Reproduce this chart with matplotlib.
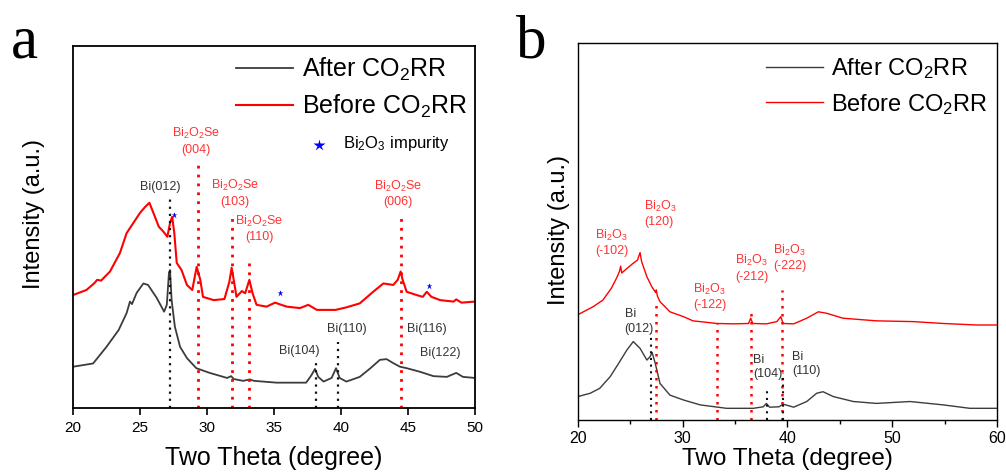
import matplotlib.pyplot as plt
from matplotlib.ticker import MultipleLocator

plt.rcParams['font.family'] = 'Liberation Sans'
plt.rcParams['mathtext.fontset'] = 'custom'
plt.rcParams['mathtext.rm'] = 'Liberation Sans'
plt.rcParams['mathtext.it'] = 'Liberation Sans:italic'
plt.rcParams['mathtext.bf'] = 'Liberation Sans:bold'

# ---- (a) Bi2O2Se, before / after CO2RR ----
a_after_tt = [20.0, 21.5, 22.5, 23.4, 24.0, 24.25, 24.4, 24.75, 25.25, 25.6, 26.25, 26.8,
              27.0, 27.16, 27.24, 27.36, 27.6, 27.99, 28.5, 29.2, 30.2, 31.5, 31.8, 32.0,
              32.7, 33.2, 33.5, 35.2, 37.4, 37.8, 38.06, 38.3, 38.7, 39.3, 39.63, 39.9,
              40.4, 41.4, 42.2, 42.9, 43.4, 43.9, 44.4, 44.9, 45.9, 46.9, 47.9, 48.6,
              49.1, 50.0]
a_after_int = [11.4, 12.3, 16.9, 21.5, 26.2, 29.4, 28.7, 31.8, 34.4, 34.0, 30.4, 26.6,
               28.5, 37.3, 38.1, 29.8, 22.5, 16.9, 13.8, 11.0, 9.7, 8.3, 8.8, 8.0,
               7.5, 7.9, 7.5, 7.0, 7.0, 9.1, 10.8, 8.6, 7.3, 8.3, 11.0, 8.3,
               7.3, 8.6, 11.0, 13.3, 13.5, 12.4, 11.4, 11.0, 10.0, 8.8, 8.6, 9.7,
               8.6, 8.3]
a_before_tt = [20.0, 21.0, 21.6, 21.8, 22.1, 22.76, 23.5, 24.0, 24.5, 25.0, 25.37, 25.7,
               26.0, 26.4, 26.75, 27.04, 27.24, 27.4, 27.56, 27.74, 28.1, 28.5, 28.9,
               29.23, 29.5, 29.7, 30.5, 31.3, 31.67, 31.84, 32.04, 32.2, 32.6, 32.85,
               33.16, 33.4, 33.7, 34.45, 35.07, 35.95, 36.94, 37.56, 38.2, 39.6, 40.4,
               41.4, 42.4, 43.16, 43.9, 44.23, 44.45, 44.6, 44.9, 45.65, 46.1, 46.4,
               46.75, 47.4, 48.4, 48.6, 48.99, 50.0]
a_before_int = [31.2, 32.6, 34.5, 35.4, 35.2, 37.7, 42.8, 48.3, 51.1, 53.9, 55.5, 56.7,
                53.9, 50.1, 48.7, 47.3, 51.1, 52.8, 48.3, 40.1, 38.1, 34.0, 32.6,
                39.0, 35.4, 30.7, 29.8, 30.1, 34.9, 38.7, 34.4, 30.7, 32.3, 31.7,
                35.4, 31.7, 28.5, 28.0, 29.1, 28.0, 27.6, 28.5, 27.1, 27.1, 27.8,
                28.9, 32.1, 34.4, 34.0, 35.4, 37.7, 35.4, 32.1, 31.2, 30.7, 32.1,
                30.7, 29.8, 29.4, 30.0, 29.1, 29.4]
a_star_tt = [27.56, 35.45, 46.56]
a_star_int = [53.3, 31.7, 33.7]

a_red_tt = [29.33, 31.9, 33.16, 44.48]
a_red_top = [68.0, 53.9, 41.8, 53.9]
a_black_tt = [27.24, 38.1, 39.75]
a_black_top = [58.4, 12.4, 18.3]

a_red_labels = ['Bi$_2$O$_2$Se\n(004)', 'Bi$_2$O$_2$Se\n(103)',
                'Bi$_2$O$_2$Se\n(110)', 'Bi$_2$O$_2$Se\n(006)']
a_red_label_tt = [29.18, 32.09, 33.88, 44.25]
a_red_label_int = [73.8, 59.4, 49.6, 59.3]
a_black_labels = ['Bi(012)', 'Bi(104)', 'Bi(110)', 'Bi(116)', 'Bi(122)']
a_black_label_tt = [26.49, 36.87, 40.43, 46.4, 47.44]
a_black_label_int = [61.0, 15.8, 21.8, 21.8, 15.2]

# ---- (b) Bi2O3, before / after CO2RR ----
b_after_tt = [20.0, 21.2, 22.1, 23.1, 23.9, 24.7, 25.3, 25.95, 26.6, 26.9, 27.1, 27.4,
              27.85, 28.8, 30.1, 31.7, 34.2, 36.75, 37.7, 38.0, 38.3, 39.2, 39.6, 40.6,
              41.85, 42.8, 43.4, 44.4, 46.3, 48.5, 51.7, 54.9, 57.4, 60.0]
b_after_int = [6.2, 7.1, 8.4, 11.5, 15.0, 18.6, 20.8, 19.0, 15.9, 16.8, 17.9, 15.0,
               9.7, 6.6, 5.3, 4.0, 3.1, 3.1, 3.5, 4.4, 3.4, 3.5, 4.2, 3.4,
               4.9, 7.1, 7.5, 6.2, 4.9, 4.4, 4.9, 4.0, 3.1, 3.1]
b_before_tt = [20.0, 21.5, 22.4, 23.2, 23.7, 23.97, 24.1, 24.2, 24.7, 25.3, 25.7, 25.95,
               26.1, 26.6, 27.06, 27.44, 27.5, 27.6, 27.85, 28.8, 30.1, 31.0, 33.3, 34.85,
               36.3, 36.5, 36.7, 38.0, 38.99, 39.37, 39.6, 40.6, 41.85, 42.96, 43.76,
               45.3, 48.5, 52.0, 54.9, 58.07, 60.0]
b_before_int = [27.9, 30.1, 31.8, 34.9, 37.6, 39.3, 40.8, 39.0, 40.2, 41.6, 42.4, 44.4,
                42.0, 38.0, 35.4, 33.8, 34.5, 32.9, 31.4, 28.7, 27.4, 26.3, 25.6, 25.5,
                25.6, 27.0, 25.6, 25.5, 26.1, 27.4, 25.6, 25.5, 27.0, 28.7, 28.3,
                27.0, 26.3, 26.1, 25.6, 25.2, 25.2]

b_red_tt = [27.47, 33.3, 36.5, 39.5]
b_red_top = [31.8, 25.7, 29.2, 34.5]
b_black_tt = [27.0, 38.1, 39.6]
b_black_top = [23.1, 8.8, 12.5]

b_red_labels = ['Bi$_2$O$_3$\n(-102)', 'Bi$_2$O$_3$\n(120)', 'Bi$_2$O$_3$\n(-122)',
                'Bi$_2$O$_3$\n(-212)', 'Bi$_2$O$_3$\n(-222)']
b_red_label_tt = [21.65, 26.36, 31.03, 35.0, 38.66]
b_red_label_int = [47.0, 54.7, 32.7, 40.3, 43.2]
b_black_labels = ['Bi\n(012)', 'Bi\n(104)', 'Bi\n(110)']
b_black_label_tt = [24.47, 36.73, 40.42]
b_black_label_int = [26.1, 14.1, 14.8]

RED = '#ff0000'
RED_TXT = '#ff3333'
GREY = '#3c3c3c'
DOT = (0, (1, 2.2))

fig = plt.figure(figsize=(10.06, 4.72), dpi=100)
ax_a = fig.add_axes([73 / 1006, 64 / 472, 402 / 1006, 362 / 472])
ax_b = fig.add_axes([577.7 / 1006, 52 / 472, 419.3 / 1006, 377 / 472])

# panel a
la, = ax_a.plot(a_after_tt, a_after_int, color=GREY, lw=1.3)
lb, = ax_a.plot(a_before_tt, a_before_int, color=RED, lw=1.5)
ax_a.plot(a_star_tt, a_star_int, '*', color='blue', ms=5, mec='none')
ax_a.vlines(a_red_tt, 0, a_red_top, colors=RED, linestyles=DOT, lw=2)
ax_a.vlines(a_black_tt, 0, a_black_top, colors='#111111', linestyles=DOT, lw=1.6)
for s, x, y in zip(a_red_labels, a_red_label_tt, a_red_label_int):
    ax_a.text(x, y, s, color=RED_TXT, fontsize=9, ha='center', va='center',
              multialignment='center', linespacing=1.25)
for s, x, y in zip(a_black_labels, a_black_label_tt, a_black_label_int):
    ax_a.text(x, y, s, color='#333333', fontsize=9, ha='center', va='center')

ax_a.legend([la, lb], ['After CO$_2$RR', 'Before CO$_2$RR'], loc='upper right',
            bbox_to_anchor=(1.0, 0.995), frameon=False, fontsize=18, handlelength=2.3,
            handletextpad=0.35, labelspacing=0.4, borderaxespad=0.1, borderpad=0.2)
ax_a.plot([0.612], [0.727], '*', color='blue', ms=9, mec='none',
          transform=ax_a.transAxes)
ax_a.text(0.672, 0.732, 'Bi$_2$O$_3$ impurity', transform=ax_a.transAxes,
          fontsize=12, va='center')

ax_a.set_xlim(20, 50)
ax_a.set_ylim(0, 100)
ax_a.xaxis.set_major_locator(MultipleLocator(5))
ax_a.set_yticks([])
ax_a.tick_params(axis='x', direction='out', length=5, width=1.2, labelsize=11, pad=4)
for sp in ax_a.spines.values():
    sp.set_linewidth(1.3)
ax_a.set_xlabel('Two Theta (degree)', fontsize=18)
ax_a.set_ylabel('Intensity (a.u.)', fontsize=17)
ax_a.xaxis.set_label_coords(0.5, -0.106)
ax_a.yaxis.set_label_coords(-0.07, 0.536)

# panel b
la, = ax_b.plot(b_after_tt, b_after_int, color=GREY, lw=1.0)
lb, = ax_b.plot(b_before_tt, b_before_int, color=RED, lw=1.0)
ax_b.vlines(b_red_tt, 0, b_red_top, colors=RED, linestyles=DOT, lw=1.8)
ax_b.vlines(b_black_tt, 0, b_black_top, colors='#111111', linestyles=DOT, lw=1.5)
for s, x, y in zip(b_red_labels, b_red_label_tt, b_red_label_int):
    ax_b.text(x, y, s, color=RED_TXT, fontsize=9, ha='left', va='center',
              linespacing=1.25)
for s, x, y in zip(b_black_labels, b_black_label_tt, b_black_label_int):
    ax_b.text(x, y, s, color='#333333', fontsize=9, ha='left', va='center',
              linespacing=1.25)

ax_b.legend([la, lb], ['After CO$_2$RR', 'Before CO$_2$RR'], loc='upper right',
            bbox_to_anchor=(1.0, 0.99), frameon=False, fontsize=17, handlelength=2.4,
            handletextpad=0.35, labelspacing=0.45, borderaxespad=0.1, borderpad=0.3)

ax_b.set_xlim(20, 60)
ax_b.set_ylim(0, 100)
ax_b.xaxis.set_major_locator(MultipleLocator(10))
ax_b.xaxis.set_minor_locator(MultipleLocator(5))
ax_b.set_yticks([])
ax_b.tick_params(axis='x', which='major', direction='out', length=5, width=1.0,
                 labelsize=11.5, pad=3)
ax_b.tick_params(axis='x', which='minor', direction='out', length=3, width=1.0)
for sp in ax_b.spines.values():
    sp.set_linewidth(1.0)
ax_b.set_xlabel('Two Theta (degree)', fontsize=17.5)
ax_b.set_ylabel('Intensity (a.u.)', fontsize=17)
ax_b.xaxis.set_label_coords(0.5, -0.074)
ax_b.yaxis.set_label_coords(-0.018, 0.504)

fig.text(11 / 1006, 1 - 57 / 472, 'a', family='Liberation Serif', fontsize=44,
         va='baseline')
fig.text(516 / 1006, 1 - 57 / 472, 'b', family='Liberation Serif', fontsize=44,
         va='baseline')

fig.savefig('out.png', dpi=100)
